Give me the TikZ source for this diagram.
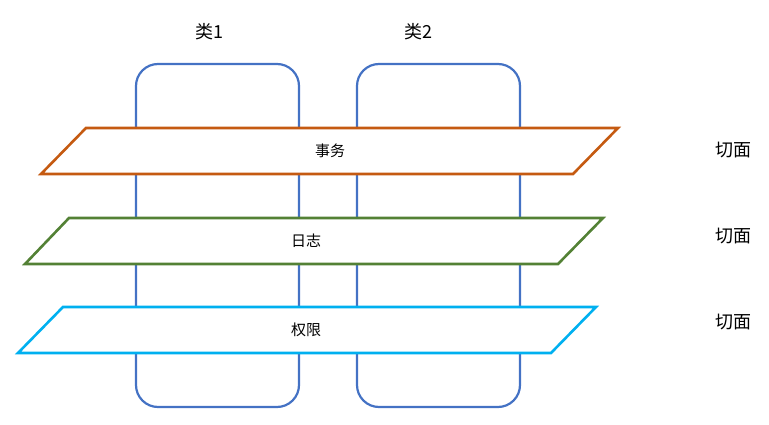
\documentclass[tikz,border=0pt]{standalone}
\usepackage{fontspec}
\newfontfamily\cjk{Noto Sans CJK SC}
\definecolor{cblue}{HTML}{4472C4}
\definecolor{corange}{HTML}{C55A11}
\definecolor{cgreen}{HTML}{538135}
\definecolor{ccyan}{HTML}{00B0F0}
\begin{document}
\begin{tikzpicture}[x=1pt,y=-1pt,
  cls/.style={draw=cblue,line width=2.2pt,rounded corners=22pt},
  plane/.style={line width=2.6pt,fill=white},
  lbl/.style={font=\cjk\fontsize{18}{20}\selectfont},
  inl/.style={font=\cjk\fontsize{15}{17}\selectfont}]
\useasboundingbox (0,0) rectangle (769,425);
\draw[cls] (136,64) rectangle (299,407);
\draw[cls] (357,64) rectangle (520,407);
\node[lbl] (c1) at (209,32) {类1};
\node[lbl] (c2) at (418,32) {类2};
\draw[plane,draw=corange] (86,128) -- (618,128) -- (573,174) -- (41,174) -- cycle;
\draw[plane,draw=cgreen] (69,218) -- (603,218) -- (558,264) -- (25,264) -- cycle;
\draw[plane,draw=ccyan] (63,307) -- (596,307) -- (551,353) -- (18,353) -- cycle;
\node[inl] (p1) at (330,151) {事务};
\node[inl] (p2) at (306,241) {日志};
\node[inl] (p3) at (306,330) {权限};
\node[lbl] (s1) at (733,150) {切面};
\node[lbl] (s2) at (733,236) {切面};
\node[lbl] (s3) at (733,322) {切面};
\end{tikzpicture}
\end{document}
